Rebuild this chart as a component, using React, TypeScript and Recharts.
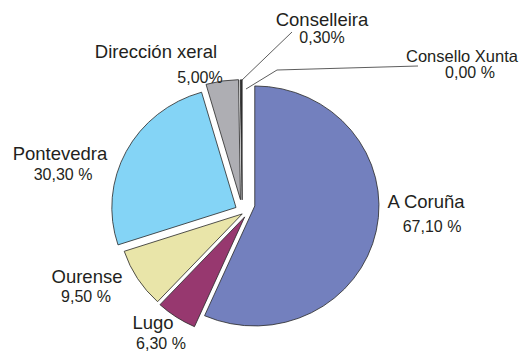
import { PieChart, Pie, Sector } from "recharts";

// share of spending by office, read clockwise from 12 o'clock
const regions = [
  "A Coruña",
  "Lugo",
  "Ourense",
  "Pontevedra",
  "Dirección xeral",
  "Conselleira",
  "Consello Xunta",
];
const shares = [67.1, 6.3, 9.5, 30.3, 5.0, 0.3, 0.0];
// some labels print the % sign without a space
const spacedPct = [true, true, true, true, false, false, true];

const colors = ["#7380be", "#97386f", "#e9e5a9", "#84d4f6", "#aeaeb3", "#333333", "#333333"];
// how far each slice is pulled out of the pie
const explode = [9, 9, 7, 10, 10, 9, 0];
// pull-out direction is turned this many degrees counter-clockwise from the slice middle
const explodeTurn = 25;
// the pie is drawn a little wider than tall
const stretchX = 1.035;

// label anchors relative to the pie centre: name x/y, value x/y
const labelAt: number[][] = [
  [180, 0, 186, 24],
  [-93, 121, -85, 141],
  [-159, 75, -160, 94],
  [-186, -48, -183, -28],
  [-90, -150, -46, -125],
  [76, -182, 76, -165],
  [216, -146, 224, -130],
];
// leader line bends for the two tiny slices
const leaders: Record<number, number[][]> = {
  5: [[46, -176]],
  6: [
    [31, -138],
    [172, -142],
  ],
};

const data = regions.map((name, i) => ({ name, value: shares[i] }));

const RAD = Math.PI / 180;
const fmt = (i: number) =>
  shares[i].toFixed(2).replace(".", ",") + (spacedPct[i] ? " %" : "%");

const renderSlice = (p: any) => {
  const i: number = p.index;
  const d = explode[i];
  const pull = (p.midAngle + explodeTurn) * RAD;
  const ox = p.cx + d * Math.cos(-pull);
  const oy = p.cy + d * Math.sin(-pull);
  const [nx, ny, vx, vy] = labelAt[i];
  const small = i === 6;

  let leader = null;
  if (leaders[i]) {
    const r = p.outerRadius - 1;
    const sx = ox + stretchX * r * Math.cos(-p.midAngle * RAD);
    const sy = oy + r * Math.sin(-p.midAngle * RAD);
    const pts = [[sx, sy], ...leaders[i].map(([x, y]) => [p.cx + x, p.cy + y])];
    leader = (
      <polyline
        points={pts.map((q) => q.join(",")).join(" ")}
        fill="none"
        stroke="#333"
        strokeWidth={0.8}
      />
    );
  }

  return (
    <g key={`slice-${i}`}>
      {p.endAngle !== p.startAngle && (
        <g transform={`translate(${ox} ${oy}) scale(${stretchX} 1) translate(${-ox} ${-oy})`}>
          <Sector
            cx={ox}
            cy={oy}
            innerRadius={0}
            outerRadius={p.outerRadius}
            startAngle={p.startAngle}
            endAngle={p.endAngle}
            fill={colors[i]}
            stroke="#2a2a2a"
            strokeWidth={0.8}
          />
        </g>
      )}
      {leader}
      <text
        x={p.cx + nx}
        y={p.cy + ny}
        textAnchor="middle"
        fontSize={small ? 16.5 : 18.5}
        fill="#231f20"
      >
        {regions[i]}
      </text>
      <text x={p.cx + vx} y={p.cy + vy} textAnchor="middle" fontSize={16} fill="#231f20">
        {fmt(i)}
      </text>
    </g>
  );
};

export default function App() {
  return (
    <div
      style={{
        position: "fixed",
        left: 0,
        top: 0,
        width: 523,
        height: 352,
        background: "#fff",
        fontFamily: "'Liberation Sans', Arial, sans-serif",
      }}
    >
      <PieChart width={523} height={352} margin={{ top: 0, right: 0, bottom: 0, left: 0 }}>
        <Pie
          data={data}
          dataKey="value"
          nameKey="name"
          cx={246}
          cy={208}
          outerRadius={120}
          startAngle={90}
          endAngle={-270}
          fill="none"
          stroke="none"
          label={renderSlice}
          labelLine={false}
          isAnimationActive={false}
        />
      </PieChart>
    </div>
  );
}
